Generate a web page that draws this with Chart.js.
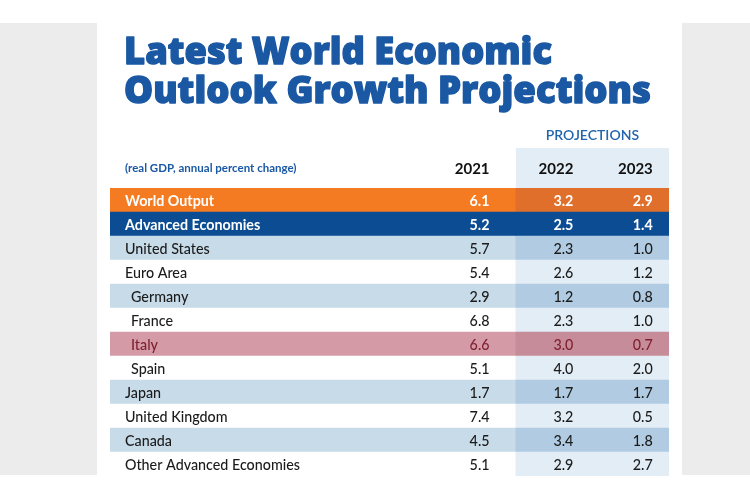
<!DOCTYPE html>
<html><head><meta charset="utf-8">
<script src="https://cdn.jsdelivr.net/npm/chart.js@4/dist/chart.umd.min.js"></script>
<style>
html,body{margin:0;padding:0;background:#fff;width:750px;height:500px;overflow:hidden;}
.side{position:absolute;top:23px;height:452px;background:#ececec;}
#wrap{position:absolute;left:0;top:0;width:750px;height:500px;}
</style></head>
<body>
<div class="side" style="left:0;width:97px"></div>
<div class="side" style="left:682px;width:68px"></div>
<div id="wrap"><canvas id="c" width="750" height="500"></canvas></div>
<script>
// ---- data ----
const titleLines = ["Latest World Economic", "Outlook Growth Projections"];
const subtitle = "(real GDP, annual percent change)";
const projLabel = "PROJECTIONS";
const years = ["2021", "2022", "2023"];
const categories = ["World Output","Advanced Economies","United States","Euro Area","Germany","France","Italy","Spain","Japan","United Kingdom","Canada","Other Advanced Economies"];
const v2021 = [6.1,5.2,5.7,5.4,2.9,6.8,6.6,5.1,1.7,7.4,4.5,5.1];
const v2022 = [3.2,2.5,2.3,2.6,1.2,2.3,3.0,4.0,1.7,3.2,3.4,2.9];
const v2023 = [2.9,1.4,1.0,1.2,0.8,1.0,0.7,2.0,1.7,0.5,1.8,2.7];
const indented = [false,false,false,false,true,true,true,true,false,false,false,false];
const rowKind = ["orange","navy","light","white","light","white","pink","white","light","white","light","white"];

// ---- styles ----
const kindBg   = {orange:"#f47b21", navy:"#0b4c93", light:"#c8dbe9", white:"#ffffff", pink:"#d49ba6"};
const kindProj = {orange:"#e06f2b", navy:"#0b4c93", light:"#b1cce2", white:"#e3edf5", pink:"#c78c99"};
const kindText = {orange:"#ffffff", navy:"#ffffff", light:"#1b1b1b", white:"#1b1b1b", pink:"#7e1f30"};
const kindBold = {orange:true, navy:true, light:false, white:false, pink:false};
const TABLE_MAX = 100, PROJ_START = 72.6;
const colRight = [67.9, 82.9, 97.1];
const valueCols = [v2021, v2022, v2023];

function fitText(ctx, text, x, y, width) {
  const w = ctx.measureText(text).width;
  ctx.save();
  ctx.translate(x, y);
  ctx.scale(width / w, 1);
  ctx.lineJoin = "round";
  ctx.lineWidth = 1.4;
  ctx.strokeText(text, 0, 0);
  ctx.fillText(text, 0, 0);
  ctx.restore();
}

const textPlugin = {
  id: 'tableText',
  beforeDatasetsDraw(chart) {
    const {ctx, scales:{x}} = chart;
    ctx.save();
    ctx.fillStyle = "#e3edf5";
    const x0 = x.getPixelForValue(PROJ_START), x1 = x.getPixelForValue(TABLE_MAX);
    ctx.fillRect(x0, 148, x1 - x0, chart.chartArea.top - 148);
    ctx.restore();
  },
  afterDatasetsDraw(chart) {
    const {ctx, scales:{x, y}} = chart;
    ctx.save();
    // title
    ctx.fillStyle = "#1a58a3";
    ctx.strokeStyle = "#1a58a3";
    ctx.textBaseline = "alphabetic";
    ctx.textAlign = "left";
    ctx.font = "800 37px 'Open Sans'";
    fitText(ctx, titleLines[0], 124, 64, 428);
    fitText(ctx, titleLines[1], 124, 103, 527);
    // header
    ctx.textBaseline = "middle";
    ctx.font = "bold 11.5px Lato";
    ctx.fillText(subtitle, 125, 168);
    ctx.fillStyle = "#2264ad";
    ctx.font = "600 14px Lato";
    ctx.textAlign = "center";
    ctx.fillText(projLabel, (x.getPixelForValue(PROJ_START) + x.getPixelForValue(TABLE_MAX)) / 2, 135);
    ctx.fillStyle = "#111";
    ctx.font = "bold 15px Lato";
    ctx.textAlign = "right";
    years.forEach((yr, j) => ctx.fillText(yr, x.getPixelForValue(colRight[j]), 169));
    // rows
    categories.forEach((cat, i) => {
      const k = rowKind[i];
      const py = y.getPixelForValue(i) + 1;
      ctx.fillStyle = kindText[k];
      ctx.font = (kindBold[k] ? "bold " : "500 ") + "14.3px Lato";
      ctx.textAlign = "left";
      ctx.fillText(cat, indented[i] ? 131 : 125, py);
      ctx.textAlign = "right";
      valueCols.forEach((vals, j) => ctx.fillText(vals[i].toFixed(1), x.getPixelForValue(colRight[j]), py));
    });
    ctx.restore();
  }
};

new Chart(document.getElementById('c'), {
  type: 'bar',
  data: {
    labels: categories,
    datasets: [
      { data: categories.map(() => [0, TABLE_MAX]), backgroundColor: rowKind.map(k => kindBg[k]),
        barPercentage: 1, categoryPercentage: 1, grouped: false, order: 2 },
      { data: categories.map(() => [PROJ_START, TABLE_MAX]), backgroundColor: rowKind.map(k => kindProj[k]),
        barPercentage: 1, categoryPercentage: 1, grouped: false, order: 1 }
    ]
  },
  options: {
    indexAxis: 'y',
    responsive: false,
    animation: false,
    events: [],
    layout: { padding: { left: 110, right: 81, top: 188, bottom: 24 } },
    plugins: { legend: { display: false }, tooltip: { enabled: false }, title: { display: false } },
    scales: {
      x: { type: 'linear', min: 0, max: TABLE_MAX, display: false },
      y: { type: 'category', display: false }
    }
  },
  plugins: [textPlugin]
});
</script>
</body></html>
